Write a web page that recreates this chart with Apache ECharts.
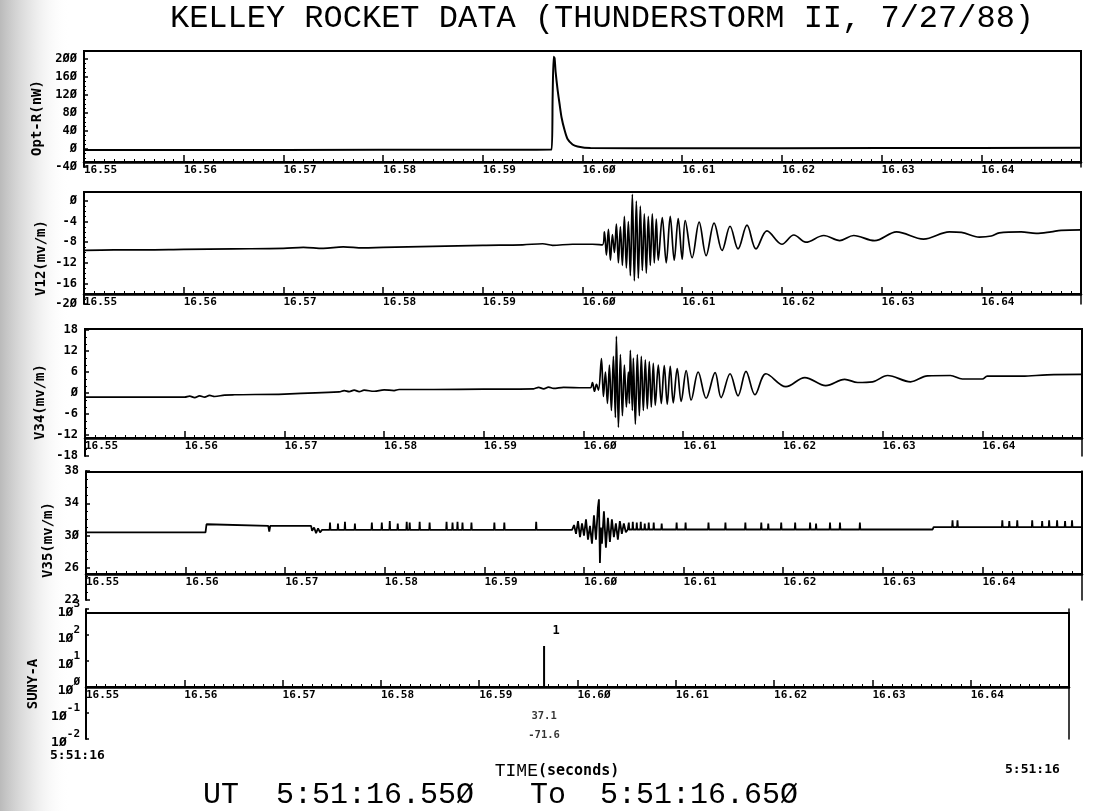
<!DOCTYPE html>
<html>
<head>
<meta charset="utf-8">
<title>Kelley rocket data</title>
<script src="https://cdn.jsdelivr.net/npm/echarts@6/dist/echarts.min.js"></script>
<style>
  html, body { margin: 0; padding: 0; background: #fff; }
  #chart { width: 1094px; height: 811px; }
</style>
</head>
<body>
<div id="chart"></div>
<script>
// ---------- measured traces: [time (s past 5:51), value] ----------
const optPoints = [
  [16.5500, -2], [16.5700, -2], [16.5900, -1.5], [16.5969, -1], [16.5970, 110], [16.5971, 205],
  [16.5972, 202], [16.5973, 172], [16.5975, 132], [16.5977, 100], [16.5979, 70], [16.5982, 42],
  [16.5985, 22], [16.5990, 10], [16.5995, 5.5], [16.6008, 2], [16.6100, 1.5], [16.6300, 2], [16.6500, 2.5]
];

const v12Points = [
  [16.5500, -9.6], [16.5530, -9.5], [16.5560, -9.5], [16.5600, -9.4], [16.5650, -9.3], [16.5700, -9.2],
  [16.5720, -9.0], [16.5740, -9.2], [16.5760, -8.9], [16.5780, -9.1], [16.5800, -9.0], [16.5850, -8.8],
  [16.5900, -8.6], [16.5940, -8.5], [16.5960, -8.3], [16.5970, -8.6], [16.5990, -8.4], [16.6010, -8.4],
  [16.6020, -8.5], [16.6022, -6.0], [16.6024, -10.5], [16.6026, -5.5], [16.6028, -11.5], [16.6030, -6.5],
  [16.6032, -10.0], [16.6034, -4.5], [16.6036, -12.0], [16.6038, -5.0], [16.6040, -12.5], [16.6042, -3.0],
  [16.6044, -13.0], [16.6046, -4.0], [16.6048, -14.5], [16.6050, 1.3], [16.6052, -15.5], [16.6054, 0.0],
  [16.6056, -15.0], [16.6058, -1.0], [16.6060, -13.5], [16.6062, -2.5], [16.6064, -14.0], [16.6066, -3.0],
  [16.6068, -12.5], [16.6070, -2.5], [16.6072, -12.0], [16.6074, -3.5], [16.6076, -11.5], [16.6080, -3.2],
  [16.6084, -12.0], [16.6088, -3.0], [16.6092, -11.5], [16.6096, -3.4], [16.6100, -11.3], [16.6103, -3.8],
  [16.6110, -11.0], [16.6117, -4.1], [16.6124, -10.6], [16.6132, -4.3], [16.6140, -9.6], [16.6148, -4.9],
  [16.6156, -9.3], [16.6165, -4.7], [16.6174, -9.3], [16.6185, -5.8], [16.6200, -8.4], [16.6212, -6.6],
  [16.6224, -8.0], [16.6242, -6.7], [16.6258, -7.7], [16.6272, -6.7], [16.6293, -7.7], [16.6315, -6.0],
  [16.6342, -7.4], [16.6368, -6.0], [16.6380, -6.1], [16.6398, -7.0], [16.6410, -6.8], [16.6418, -6.2],
  [16.6440, -6.0], [16.6455, -6.3], [16.6470, -6.0], [16.6480, -5.7], [16.6500, -5.6]
];

const v34Points = [
  [16.5500, -1.2], [16.5600, -1.2], [16.5605, -0.9], [16.5610, -1.3], [16.5615, -0.8], [16.5620, -1.2],
  [16.5625, -0.7], [16.5630, -1.0], [16.5640, -0.6], [16.5650, -0.5], [16.5700, -0.3], [16.5755, 0.3],
  [16.5760, 0.7], [16.5765, 0.4], [16.5770, 0.8], [16.5775, 0.4], [16.5780, 0.8], [16.5790, 0.5],
  [16.5800, 0.9], [16.5810, 0.7], [16.5815, 1.0], [16.5850, 1.0], [16.5900, 1.1], [16.5950, 1.2],
  [16.5955, 1.6], [16.5960, 1.2], [16.5965, 1.7], [16.5970, 1.3], [16.5980, 1.6], [16.6000, 1.5],
  [16.6007, 1.5], [16.6009, 3.0], [16.6011, 0.5], [16.6013, 2.5], [16.6015, 0.8], [16.6018, 9.8],
  [16.6020, -1.0], [16.6022, 6.0], [16.6024, -3.0], [16.6026, 8.0], [16.6028, -5.0], [16.6030, 10.5],
  [16.6032, -7.0], [16.6033, 16.2], [16.6035, -9.8], [16.6037, 11.0], [16.6039, -6.5], [16.6041, 8.0],
  [16.6043, -4.0], [16.6045, 6.0], [16.6046, -3.0], [16.6047, 12.2], [16.6049, -5.0], [16.6050, 10.0],
  [16.6052, -8.9], [16.6054, 11.0], [16.6056, -6.5], [16.6058, 10.5], [16.6060, -5.0], [16.6062, 9.5],
  [16.6064, -4.5], [16.6066, 9.0], [16.6068, -4.0], [16.6070, 8.5], [16.6072, -3.5], [16.6075, 8.0],
  [16.6078, -3.0], [16.6081, 7.8], [16.6084, -3.2], [16.6087, 7.6], [16.6090, -2.8], [16.6094, 7.0],
  [16.6098, -2.4], [16.6103, 6.4], [16.6108, -2.0], [16.6115, 6.0], [16.6123, -1.5], [16.6132, 5.8],
  [16.6138, -1.3], [16.6147, 5.5], [16.6155, -0.8], [16.6163, 6.2], [16.6172, -0.5], [16.6183, 5.5],
  [16.6203, 1.8], [16.6222, 4.4], [16.6243, 2.1], [16.6262, 3.9], [16.6275, 3.0], [16.6290, 3.2],
  [16.6305, 5.0], [16.6328, 3.2], [16.6345, 4.9], [16.6368, 5.0], [16.6380, 4.0], [16.6400, 4.0],
  [16.6405, 4.8], [16.6440, 4.8], [16.6465, 5.2], [16.6500, 5.3]
];

const v35Points = [
  [16.5500, 30.4], [16.5620, 30.4], [16.5621, 31.4], [16.5623, 31.2], [16.5683, 31.2], [16.5684, 30.5],
  [16.5685, 31.2], [16.5726, 31.2], [16.5727, 30.6], [16.5729, 31.0], [16.5731, 30.3], [16.5733, 30.9],
  [16.5735, 30.4], [16.5737, 30.7],
  [16.57446, 30.7], [16.5745, 31.6], [16.57454, 30.7],
  [16.57526, 30.7], [16.5753, 31.5], [16.57534, 30.7],
  [16.57596, 30.7], [16.5760, 31.7], [16.57604, 30.7],
  [16.57696, 30.7], [16.5770, 31.5], [16.57704, 30.7],
  [16.57866, 30.7], [16.5787, 31.6], [16.57874, 30.7],
  [16.57966, 30.7], [16.5797, 31.6], [16.57974, 30.7],
  [16.58046, 30.7], [16.5805, 31.8], [16.58054, 30.7],
  [16.58126, 30.7], [16.5813, 31.5], [16.58134, 30.7],
  [16.58216, 30.7], [16.5822, 31.7], [16.58224, 30.7],
  [16.58246, 30.7], [16.5825, 31.6], [16.58254, 30.7],
  [16.58346, 30.7], [16.5835, 31.7], [16.58354, 30.7],
  [16.58446, 30.7], [16.5845, 31.6], [16.58454, 30.7],
  [16.58616, 30.7], [16.5862, 31.7], [16.58624, 30.7],
  [16.58676, 30.7], [16.5868, 31.6], [16.58684, 30.7],
  [16.58726, 30.7], [16.5873, 31.7], [16.58734, 30.7],
  [16.58776, 30.7], [16.5878, 31.6], [16.58784, 30.7],
  [16.58866, 30.7], [16.5887, 31.6], [16.58874, 30.7],
  [16.59096, 30.7], [16.5910, 31.6], [16.59104, 30.7],
  [16.59196, 30.7], [16.5920, 31.6], [16.59204, 30.7],
  [16.59516, 30.7], [16.5952, 31.7], [16.59524, 30.7],
  [16.5988, 30.7], [16.5990, 31.3], [16.5992, 30.2], [16.5994, 31.8], [16.5996, 29.8], [16.5998, 31.5],
  [16.6000, 30.0], [16.6002, 32.0], [16.6004, 29.5], [16.6006, 31.2], [16.6008, 29.0], [16.6010, 32.5],
  [16.6012, 29.5], [16.6014, 33.5], [16.6015, 34.5], [16.6016, 26.6], [16.6017, 31.0], [16.6018, 29.0],
  [16.6020, 33.0], [16.6022, 28.5], [16.6024, 32.2], [16.6026, 29.2], [16.6028, 32.0], [16.6030, 29.8],
  [16.6032, 31.5], [16.6034, 29.5], [16.6036, 31.8], [16.6038, 30.2], [16.6040, 31.5], [16.6042, 30.4],
  [16.6044, 30.75],
  [16.60446, 30.75], [16.6045, 31.6], [16.60454, 30.75],
  [16.60486, 30.75], [16.6049, 31.7], [16.60494, 30.75],
  [16.60526, 30.75], [16.6053, 31.6], [16.60534, 30.75],
  [16.60566, 30.75], [16.6057, 31.7], [16.60574, 30.75],
  [16.60606, 30.75], [16.6061, 31.5], [16.60614, 30.75],
  [16.60646, 30.75], [16.6065, 31.6], [16.60654, 30.75],
  [16.60696, 30.75], [16.6070, 31.6], [16.60704, 30.75],
  [16.60776, 30.75], [16.6078, 31.5], [16.60784, 30.75],
  [16.60926, 30.75], [16.6093, 31.6], [16.60934, 30.75],
  [16.61016, 30.75], [16.6102, 31.6], [16.61024, 30.75],
  [16.61246, 30.75], [16.6125, 31.6], [16.61254, 30.75],
  [16.61416, 30.75], [16.6142, 31.6], [16.61424, 30.75],
  [16.61616, 30.75], [16.6162, 31.6], [16.61624, 30.75],
  [16.61776, 30.75], [16.6178, 31.6], [16.61784, 30.75],
  [16.61846, 30.75], [16.6185, 31.5], [16.61854, 30.75],
  [16.61976, 30.75], [16.6198, 31.6], [16.61984, 30.75],
  [16.62116, 30.75], [16.6212, 31.6], [16.62124, 30.75],
  [16.62266, 30.75], [16.6227, 31.6], [16.62274, 30.75],
  [16.62326, 30.75], [16.6233, 31.5], [16.62334, 30.75],
  [16.62466, 30.75], [16.6247, 31.6], [16.62474, 30.75],
  [16.62566, 30.75], [16.6257, 31.6], [16.62574, 30.75],
  [16.62766, 30.75], [16.6277, 31.6], [16.62774, 30.75],
  [16.6350, 30.75], [16.6351, 31.05],
  [16.63696, 31.05], [16.6370, 31.9], [16.63704, 31.05],
  [16.63746, 31.05], [16.6375, 31.9], [16.63754, 31.05],
  [16.64196, 31.05], [16.6420, 31.9], [16.64204, 31.05],
  [16.64266, 31.05], [16.6427, 31.8], [16.64274, 31.05],
  [16.64346, 31.05], [16.6435, 31.9], [16.64354, 31.05],
  [16.64496, 31.05], [16.6450, 31.9], [16.64504, 31.05],
  [16.64596, 31.05], [16.6460, 31.8], [16.64604, 31.05],
  [16.64666, 31.05], [16.6467, 31.9], [16.64674, 31.05],
  [16.64746, 31.05], [16.6475, 31.9], [16.64754, 31.05],
  [16.64826, 31.05], [16.6483, 31.8], [16.64834, 31.05],
  [16.64896, 31.05], [16.6490, 31.9], [16.64904, 31.05],
  [16.6500, 31.05]
];

// SUNY-A detection: time, peak value, stroke count, latitude, longitude
const sunyTime = [16.5966];
const sunyPeak = [38];
const sunyStrokes = [1];
const sunyLat = [37.1];
const sunyLon = [-71.6];

// axis tick values
const timeRange = [16.55, 16.65];
const timeStep = 0.01;
const optTicks = [-40, 200, 40];
const v12Ticks = [-20, 0, 4];
const v34Ticks = [-18, 18, 6];
const v35Ticks = [22, 38, 4];
const sunyTicks = [0.01, 1000];

const panelNames = ['Opt-R(nW)', 'V12(mv/m)', 'V34(mv/m)', 'V35(mv/m)', 'SUNY-A'];

// ---------- layout of the five stacked strips ----------
const MONO = '"DejaVu Sans Mono", "Liberation Mono", monospace';
const THIN = '"Liberation Mono", "DejaVu Sans Mono", monospace';
const slashZero = s => s.replace(/0/g, '\u00D8');

const layout = [
  { top: 51,  axisY: 162, left: 84, right: 1081, dMin: -28.9,  dMax: 217.8, lTop: 59,  lBot: 167, ticks: optTicks,  minor: 4, nameX: 37, nameY: 118 },
  { top: 192, axisY: 294, left: 84, right: 1081, dMin: -18.06, dMax: 1.75,  lTop: 201, lBot: 304, ticks: v12Ticks,  minor: 4, nameX: 41, nameY: 258 },
  { top: 329, axisY: 438, left: 85, right: 1082, dMin: -12.86, dMax: 18.29, lTop: 330, lBot: 456, ticks: v34Ticks,  minor: 3, nameX: 40, nameY: 402 },
  { top: 472, axisY: 574, left: 86, right: 1082, dMin: 25.23,  dMax: 37.88, lTop: 471, lBot: 600, ticks: v35Ticks,  minor: 4, nameX: 48, nameY: 540 },
  { top: 613, axisY: 687, left: 86, right: 1069, dMin: 1,      dMax: 702,   lTop: 609, lBot: 739, ticks: sunyTicks, log: true, nameX: 33, nameY: 684 }
];

const grids = [], xAxes = [], yAxes = [];
layout.forEach(L => {
  const w = L.right - L.left;
  // framed plotting box
  grids.push({ left: L.left, top: L.top, width: w, height: L.axisY - L.top,
    show: true, borderColor: '#000', borderWidth: 2, backgroundColor: 'transparent' });
  // strip holding the left tick labels (their span differs from the box)
  grids.push({ left: L.left, top: L.lTop, width: w, height: L.lBot - L.lTop, show: false });

  xAxes.push({
    type: 'value', gridIndex: grids.length - 2, min: timeRange[0], max: timeRange[1], interval: timeStep,
    axisLine: { show: true, onZero: false, lineStyle: { color: '#000', width: 2.5 } },
    axisTick: { show: true, inside: true, length: 7, lineStyle: { color: '#000', width: 1.5 } },
    minorTick: { show: true, splitNumber: 10, length: 3, lineStyle: { color: '#000', width: 1 } },
    splitLine: { show: false },
    axisLabel: {
      show: true, showMaxLabel: false, align: 'left', margin: 3,
      fontFamily: MONO, fontWeight: 'bold', fontSize: 11, color: '#000',
      formatter: v => slashZero(v.toFixed(2))
    }
  });
  xAxes.push({ type: 'value', gridIndex: grids.length - 1, min: timeRange[0], max: timeRange[1], show: false });

  yAxes.push({ type: L.log ? 'log' : 'value', logBase: 10, gridIndex: grids.length - 2,
    min: L.dMin, max: L.dMax, show: false, splitLine: { show: false } });

  if (L.log) {
    yAxes.push({
      type: 'log', logBase: 10, gridIndex: grids.length - 1, min: L.ticks[0], max: L.ticks[1],
      axisLine: { show: true, lineStyle: { color: '#000', width: 2 } },
      axisTick: { show: true, inside: true, length: 3, lineStyle: { color: '#000', width: 1.5 } },
      splitLine: { show: false },
      axisLabel: {
        margin: 6, color: '#000',
        formatter: v => {
          const e = Math.round(Math.log10(v));
          return '{b|1\u00D8}{s|' + slashZero((e < 0 ? '-' : '') + Math.abs(e)) + '}';
        },
        rich: {
          b: { fontFamily: MONO, fontWeight: 'bold', fontSize: 13, color: '#000', lineHeight: 20, verticalAlign: 'bottom' },
          s: { fontFamily: MONO, fontWeight: 'bold', fontSize: 11, color: '#000', verticalAlign: 'top' }
        }
      }
    });
  } else {
    yAxes.push({
      type: 'value', gridIndex: grids.length - 1, min: L.ticks[0], max: L.ticks[1], interval: L.ticks[2],
      axisLine: { show: true, onZero: false, lineStyle: { color: '#000', width: 2 } },
      axisTick: { show: true, inside: true, length: 4, lineStyle: { color: '#000', width: 1.5 } },
      minorTick: { show: true, splitNumber: L.minor, length: 2, lineStyle: { color: '#000', width: 1 } },
      splitLine: { show: false },
      axisLabel: {
        margin: 7, fontFamily: MONO, fontWeight: 'bold', fontSize: 12, color: '#000',
        formatter: v => slashZero(String(v))
      }
    });
  }
  // right edge continues down to the lowest label
  yAxes.push({
    type: L.log ? 'log' : 'value', logBase: 10, gridIndex: grids.length - 1, position: 'right',
    min: L.ticks[0], max: L.ticks[1],
    axisLine: { show: true, onZero: false, lineStyle: { color: '#000', width: 1.5 } },
    axisTick: { show: false }, axisLabel: { show: false }, splitLine: { show: false }
  });
});

const traceStyle = w => ({ color: '#000', width: w });

const sunyLine = [];
sunyTime.forEach((t, i) => {
  sunyLine.push([t, 1]);
  sunyLine.push({
    value: [t, sunyPeak[i]],
    label: {
      show: true, position: 'top', offset: [12, -4], formatter: String(sunyStrokes[i]),
      fontFamily: MONO, fontWeight: 'bold', fontSize: 12, color: '#000'
    }
  });
  sunyLine.push([t, 1]);
});

const sunyNotes = sunyTime.map((t, i) => ({
  value: [t, 0.032],
  label: {
    show: true, position: 'inside', formatter: sunyLat[i].toFixed(1) + '\n' + sunyLon[i].toFixed(1),
    fontFamily: MONO, fontWeight: 'bold', fontSize: 10.5, lineHeight: 19, color: '#000', align: 'center'
  }
}));

const series = [
  { type: 'line', xAxisIndex: 0, yAxisIndex: 0, data: optPoints, showSymbol: false, smooth: 0.2,
    lineStyle: traceStyle(2), animation: false },
  { type: 'line', xAxisIndex: 2, yAxisIndex: 3, data: v12Points, showSymbol: false, smooth: 0.35,
    lineStyle: traceStyle(1.7), animation: false },
  { type: 'line', xAxisIndex: 4, yAxisIndex: 6, data: v34Points, showSymbol: false, smooth: 0.35,
    lineStyle: traceStyle(1.7), animation: false },
  { type: 'line', xAxisIndex: 6, yAxisIndex: 9, data: v35Points, showSymbol: false,
    lineStyle: traceStyle(1.8), animation: false },
  { type: 'line', xAxisIndex: 8, yAxisIndex: 12, data: sunyLine, showSymbol: true, symbolSize: 0,
    lineStyle: traceStyle(2), animation: false },
  { type: 'scatter', xAxisIndex: 9, yAxisIndex: 13, data: sunyNotes, symbolSize: 0, animation: false }
];

const texts = [
  { type: 'rect', z: -1, shape: { x: 0, y: 0, width: 70, height: 811 },
    style: { fill: new echarts.graphic.LinearGradient(0, 0, 1, 0, [
      { offset: 0, color: 'rgba(130,130,130,0.55)' },
      { offset: 0.45, color: 'rgba(170,170,170,0.28)' },
      { offset: 1, color: 'rgba(255,255,255,0)' }]) } },
  { type: 'text', x: 602, y: 19, z: 10,
    style: { text: 'KELLEY ROCKET DATA (THUNDERSTORM II, 7/27/88)', font: '32px ' + THIN, fill: '#000',
      align: 'center', verticalAlign: 'middle' } },
  { type: 'text', x: 203, y: 795, z: 10, style: { text: 'UT', font: '30px ' + THIN, fill: '#000', verticalAlign: 'middle' } },
  { type: 'text', x: 276, y: 795, z: 10, style: { text: '5:51:16.55\u00D8', font: '30px ' + THIN, fill: '#000', verticalAlign: 'middle' } },
  { type: 'text', x: 530, y: 795, z: 10, style: { text: 'To', font: '30px ' + THIN, fill: '#000', verticalAlign: 'middle' } },
  { type: 'text', x: 600, y: 795, z: 10, style: { text: '5:51:16.65\u00D8', font: '30px ' + THIN, fill: '#000', verticalAlign: 'middle' } },
  { type: 'text', x: 50, y: 756, z: 10, style: { text: '5:51:16', font: 'bold 13px ' + MONO, fill: '#000', verticalAlign: 'middle' } },
  { type: 'text', x: 1005, y: 770, z: 10, style: { text: '5:51:16', font: 'bold 13px ' + MONO, fill: '#000', verticalAlign: 'middle' } },
  { type: 'text', x: 557, y: 771, z: 10, style: {
      text: '{a|TIME}{b|(seconds)}', align: 'center', verticalAlign: 'middle',
      rich: { a: { fontFamily: THIN, fontSize: 18, fill: '#000' }, b: { fontFamily: MONO, fontWeight: 'bold', fontSize: 15, fill: '#000' } } } }
];
panelNames.forEach((name, i) => {
  texts.push({ type: 'text', x: layout[i].nameX, y: layout[i].nameY, rotation: Math.PI / 2, z: 10,
    style: { text: name, font: 'bold 14px ' + MONO, fill: '#000', align: 'center', verticalAlign: 'middle' } });
});

const chart = echarts.init(document.getElementById('chart'), null, { renderer: 'canvas' });
chart.setOption({
  backgroundColor: '#fff',
  animation: false,
  grid: grids,
  xAxis: xAxes,
  yAxis: yAxes,
  series: series,
  graphic: { elements: texts }
});
</script>
</body>
</html>
